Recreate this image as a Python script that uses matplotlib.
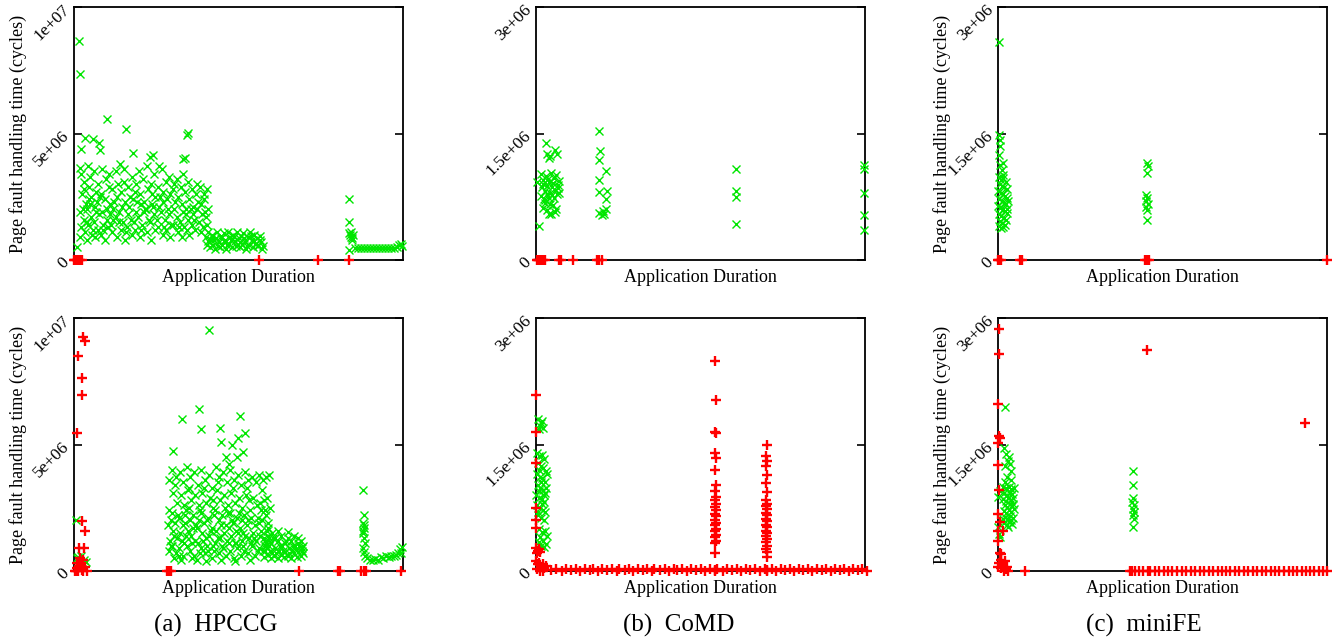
import matplotlib
matplotlib.use('Agg')
import matplotlib.pyplot as plt

plt.rcParams['font.family'] = ['Liberation Serif', 'DejaVu Serif']

# y values are in millions of cycles, x is percent of application duration

# ---- HPCCG, top ----
hpccg_top_green = [
    (1.5, 8.64), (1.8, 7.36), (0.8, 0.50), (10.0, 5.58), (15.7, 5.17), (34.7, 5.01), (34.3, 4.93),
    (3.3, 4.82), (2.1, 4.39), (5.9, 4.78), (7.6, 4.62), (7.9, 4.35), (18.0, 4.22), (23.0, 4.09),
    (24.1, 4.16), (33.0, 3.98), (33.7, 4.05), (1.8, 3.63),
    (2.0, 3.4), (2.4, 2.6), (1.7, 1.9), (2.2, 1.3), (1.9, 0.9),
    (3.1, 3.1), (3.5, 2.2), (2.9, 1.6), (3.3, 1.1), (3.0, 2.8),
    (4.2, 3.7), (4.5, 2.9), (4.0, 2.0), (4.4, 1.4), (4.1, 0.8), (4.6, 2.4),
    (5.0, 3.3), (5.3, 2.5), (5.1, 1.7), (5.5, 1.0),
    (6.1, 3.5), (6.4, 2.1), (6.0, 1.5), (6.3, 0.9), (6.6, 2.7),
    (7.3, 3.0), (7.0, 2.3), (7.5, 1.8), (7.2, 1.2),
    (8.4, 3.6), (8.1, 2.6), (8.6, 1.9), (8.3, 1.0), (8.8, 1.4),
    (9.6, 3.2), (9.3, 2.4), (9.9, 1.6), (9.5, 0.8),
    (10.5, 3.4), (10.8, 2.2), (10.3, 1.3), (10.7, 2.9), (11.0, 1.8),
    (11.7, 2.8), (12.0, 2.0), (11.5, 1.1), (11.9, 1.6),
    (12.9, 3.5), (13.2, 2.5), (12.7, 1.7), (13.1, 0.9), (13.4, 3.0),
    (14.0, 3.8), (14.3, 2.7), (13.8, 1.9), (14.2, 1.2),
    (15.2, 3.1), (15.5, 2.3), (15.0, 1.5), (15.4, 0.8), (15.1, 3.6),
    (16.3, 2.9), (16.6, 2.1), (16.1, 1.3), (16.5, 1.8),
    (17.5, 3.3), (17.8, 2.4), (17.3, 1.6), (17.7, 1.0),
    (18.6, 2.7), (18.9, 1.9), (18.4, 1.2), (18.8, 3.0),
    (19.8, 3.5), (20.1, 2.6), (19.6, 1.7), (20.0, 0.9), (20.3, 2.2),
    (21.0, 3.2), (21.3, 2.3), (20.8, 1.4), (21.2, 1.9),
    (22.1, 3.7), (22.4, 2.8), (21.9, 2.0), (22.3, 1.1),
    (23.3, 3.0), (23.6, 2.2), (23.1, 1.5), (23.5, 0.8), (23.8, 2.6),
    (24.4, 3.4), (24.7, 2.5), (24.2, 1.8), (24.6, 1.2),
    (25.6, 2.9), (25.9, 2.1), (25.4, 1.3), (25.8, 3.7),
    (26.7, 3.6), (27.0, 2.7), (26.5, 1.9), (26.9, 1.0), (27.2, 2.3),
    (27.9, 3.1), (28.2, 2.4), (27.7, 1.6), (28.1, 1.2),
    (29.0, 3.3), (29.3, 2.6), (28.8, 1.8), (29.2, 0.9),
    (30.2, 2.8), (30.5, 2.0), (30.0, 1.4), (30.4, 3.0),
    (31.4, 3.2), (31.7, 2.5), (31.2, 1.7), (31.6, 1.1),
    (32.5, 2.9), (32.8, 2.2), (32.3, 1.5), (32.7, 0.9), (33.0, 3.4),
    (33.7, 2.7), (34.0, 2.0), (33.5, 1.3), (33.9, 1.8),
    (34.8, 3.1), (35.1, 2.4), (34.6, 1.6), (35.0, 1.0),
    (36.0, 2.8), (36.3, 2.1), (35.8, 1.4), (36.2, 1.8),
    (37.1, 2.6), (37.4, 2.0), (36.9, 1.2), (37.3, 3.0),
    (38.3, 2.9), (38.6, 2.2), (38.1, 1.5), (38.5, 1.1),
    (39.4, 2.6), (39.7, 1.9), (39.2, 1.3), (39.6, 2.4),
    (40.5, 2.8), (40.8, 2.0), (40.3, 1.4),
    (40.0, 0.9), (40.3, 0.6), (40.8, 1.1), (41.2, 0.5), (41.5, 0.8),
    (42.0, 1.0), (42.3, 0.6), (42.8, 0.45), (43.1, 0.85), (43.5, 1.1),
    (44.0, 0.7), (44.4, 0.5), (44.8, 0.95), (45.1, 0.6), (45.5, 1.05),
    (46.0, 0.8), (46.3, 0.45), (46.8, 1.1), (47.1, 0.65), (47.5, 0.9),
    (48.0, 0.5), (48.4, 1.0), (48.8, 0.75), (49.1, 0.55), (49.5, 1.1),
    (50.0, 0.85), (50.4, 0.5), (50.8, 0.95), (51.1, 0.65), (51.5, 1.05),
    (52.0, 0.7), (52.3, 0.45), (52.8, 0.9), (53.1, 0.6), (53.5, 1.1),
    (54.0, 0.8), (54.4, 0.5), (54.8, 1.0), (55.1, 0.65), (55.5, 0.85),
    (56.0, 0.55), (56.4, 0.95), (56.8, 0.7), (57.2, 0.45),
    (40.6, 0.75), (41.8, 0.95), (43.8, 0.55), (45.8, 0.7), (47.8, 0.8), (49.8, 0.6),
    (51.8, 0.85), (53.8, 0.95), (55.8, 0.6), (42.5, 0.8), (44.6, 0.85), (46.6, 0.6),
    (48.6, 0.9), (50.6, 0.7), (52.6, 0.55), (54.6, 0.75), (56.5, 0.8), (57.5, 0.55),
    (83.6, 2.40), (83.6, 1.49), (83.9, 1.00), (84.2, 0.92), (83.7, 1.07), (84.5, 0.88),
    (84.1, 1.12), (84.7, 1.00), (83.6, 0.40), (84.4, 0.80),
    (85.5, 0.46), (86.4, 0.46), (87.3, 0.46), (88.2, 0.46), (89.1, 0.46), (90.0, 0.46),
    (90.9, 0.46), (91.8, 0.46), (92.7, 0.46), (93.6, 0.46), (94.5, 0.46), (95.4, 0.46),
    (96.3, 0.46), (97.2, 0.46), (98.1, 0.52), (98.8, 0.60), (99.4, 0.64), (99.8, 0.55),
]
hpccg_top_green_fill = [
    (2.7, 2.0), (3.8, 1.5), (4.9, 2.2), (5.7, 1.2), (6.8, 1.9), (7.9, 2.5), (8.9, 1.2), (9.9, 2.0),
    (11.2, 1.4), (12.3, 2.3), (13.6, 1.5), (14.6, 2.1), (15.8, 1.1), (16.9, 2.5), (18.1, 1.5),
    (19.2, 2.3), (20.5, 1.2), (21.6, 2.0), (22.8, 1.6), (24.0, 2.1), (25.1, 1.6), (26.2, 2.5),
    (27.4, 1.3), (28.5, 2.0), (29.6, 1.4), (30.8, 2.3), (31.9, 1.3), (33.2, 1.9), (34.4, 1.2),
    (35.5, 2.0), (36.6, 1.6), (37.8, 2.3), (38.9, 1.8), (40.0, 1.7),
]
hpccg_top_red = [(0.0, 0), (0.4, 0), (0.8, 0), (1.2, 0), (1.7, 0), (2.3, 0),
                 (56.2, 0), (74.2, 0), (83.6, 0)]

# ---- HPCCG, bottom ----
hpccg_bot_green = [
    (0.6, 2.03), (0.8, 0.50), (1.5, 0.40), (2.2, 0.60), (3.0, 0.45), (3.6, 0.35), (2.6, 0.30), (1.2, 0.55),
    (41.0, 9.51), (38.0, 6.41), (32.7, 6.01), (38.7, 5.61), (50.4, 6.13), (44.5, 5.67), (44.8, 5.11),
    (48.0, 4.98), (49.8, 5.24), (52.0, 5.44), (51.4, 4.72), (46.2, 4.52), (49.6, 4.49), (47.0, 4.23),
    (30.0, 4.76),
    (28.8, 3.6), (29.0, 2.4), (28.7, 1.8), (29.1, 1.2), (28.9, 0.8),
    (29.9, 4.0), (30.2, 3.1), (29.7, 2.3), (30.1, 1.6), (29.8, 1.0), (30.3, 0.5),
    (31.0, 3.7), (31.3, 2.7), (30.8, 1.9), (31.2, 1.3), (30.9, 0.7),
    (32.1, 3.9), (32.4, 3.0), (31.9, 2.1), (32.3, 1.5), (32.0, 0.9), (32.5, 0.45),
    (33.2, 3.5), (33.5, 2.6), (33.0, 1.8), (33.4, 1.1), (33.1, 0.6), (33.6, 2.2),
    (34.3, 4.1), (34.6, 3.2), (34.1, 2.4), (34.5, 1.6), (34.2, 1.0),
    (35.4, 3.7), (35.7, 2.8), (35.2, 2.0), (35.6, 1.4), (35.3, 0.8), (35.8, 0.5),
    (36.5, 3.9), (36.8, 3.0), (36.3, 2.2), (36.7, 1.2), (36.4, 0.6),
    (37.6, 3.4), (37.9, 2.6), (37.4, 1.7), (37.8, 1.1), (37.5, 0.45), (38.0, 2.0),
    (38.7, 4.0), (39.0, 3.1), (38.5, 2.3), (38.9, 1.5), (38.6, 0.9),
    (39.8, 3.6), (40.1, 2.7), (39.6, 1.9), (40.0, 1.3), (39.7, 0.7), (40.2, 0.4),
    (40.9, 3.8), (41.2, 2.9), (40.7, 2.1), (41.1, 1.4), (40.8, 0.8),
    (42.0, 3.3), (42.3, 2.5), (41.8, 1.7), (42.2, 1.0), (41.9, 0.5), (42.4, 2.8),
    (43.1, 4.1), (43.4, 3.2), (42.9, 2.4), (43.3, 1.6), (43.0, 1.1),
    (44.2, 3.7), (44.5, 2.8), (44.0, 2.0), (44.4, 1.3), (44.1, 0.7), (44.6, 0.45),
    (45.3, 3.9), (45.6, 3.0), (45.1, 2.2), (45.5, 1.5), (45.2, 0.9),
    (46.4, 3.5), (46.7, 2.6), (46.2, 1.8), (46.6, 1.2), (46.3, 0.6), (46.8, 2.3),
    (47.5, 4.0), (47.8, 3.1), (47.3, 2.3), (47.7, 1.4), (47.4, 0.8),
    (48.6, 3.6), (48.9, 2.7), (48.4, 1.9), (48.8, 1.1), (48.5, 0.5), (49.0, 0.4),
    (49.7, 3.8), (50.0, 2.9), (49.5, 2.1), (49.9, 1.5), (49.6, 0.9),
    (50.8, 3.4), (51.1, 2.5), (50.6, 1.7), (51.0, 1.2), (50.7, 0.6), (51.2, 2.0),
    (51.9, 3.9), (52.2, 3.0), (51.7, 2.2), (52.1, 1.4), (51.8, 0.8),
    (53.0, 3.6), (53.3, 2.8), (52.8, 2.0), (53.2, 1.3), (52.9, 0.7), (53.4, 0.45),
    (54.1, 3.7), (54.4, 2.9), (53.9, 2.1), (54.3, 1.5), (54.0, 1.0),
    (55.2, 3.5), (55.5, 2.6), (55.0, 1.8), (55.4, 1.2), (55.1, 0.6),
    (56.3, 3.8), (56.6, 2.7), (56.1, 1.9), (56.5, 1.4), (56.2, 0.9), (56.7, 2.4),
    (57.4, 3.6), (57.7, 2.8), (57.2, 2.0), (57.6, 1.3), (57.3, 0.8),
    (58.5, 3.7), (58.8, 2.9), (58.3, 2.2), (58.7, 1.6), (58.4, 1.1),
    (59.3, 3.8), (59.5, 2.5), (59.1, 1.9), (59.4, 1.3),
    (58.0, 1.2), (58.2, 0.8), (57.9, 0.55),
    (59.0, 1.4), (59.2, 1.0), (58.9, 0.65),
    (60.0, 1.1), (60.2, 0.7), (59.9, 0.5), (60.1, 1.5),
    (61.0, 1.3), (61.2, 0.9), (60.9, 0.6),
    (62.0, 1.2), (62.2, 0.8), (61.9, 0.5), (62.1, 1.6),
    (63.0, 1.4), (63.2, 1.0), (62.9, 0.65),
    (64.0, 1.1), (64.2, 0.75), (63.9, 0.55),
    (65.0, 1.3), (65.2, 0.9), (64.9, 0.6), (65.1, 1.55),
    (66.0, 1.2), (66.2, 0.8), (65.9, 0.5),
    (67.0, 1.4), (67.2, 1.0), (66.9, 0.7),
    (68.0, 1.1), (68.2, 0.75), (67.9, 0.55), (68.1, 1.3),
    (69.0, 1.2), (69.2, 0.9), (68.9, 0.6),
    (69.6, 1.0), (69.5, 0.7),
    (87.9, 3.20), (88.1, 2.20), (87.8, 1.90), (88.2, 1.70), (87.7, 1.50), (88.0, 1.30),
    (88.3, 1.10), (87.9, 0.90), (88.2, 0.75), (88.6, 0.60), (88.0, 1.80), (87.8, 1.60),
    (89.2, 0.50), (90.0, 0.45), (90.8, 0.42), (91.6, 0.48), (92.4, 0.45), (93.2, 0.55),
    (94.0, 0.52), (94.8, 0.58), (95.6, 0.55), (96.4, 0.60), (97.2, 0.58), (98.0, 0.62),
    (98.6, 0.70), (99.2, 0.85), (99.7, 0.95), (99.5, 0.70),
]
hpccg_bot_green_fill = [
    (29.4, 2.0), (30.5, 1.4), (31.6, 2.2), (32.7, 1.2), (33.8, 1.9), (34.9, 2.5), (36.0, 1.1),
    (37.1, 1.8), (38.2, 2.4), (39.3, 1.2), (40.4, 2.0), (41.5, 1.6), (42.6, 2.2), (43.7, 1.3),
    (44.8, 1.8), (45.9, 2.5), (47.0, 1.1), (48.1, 2.0), (49.2, 1.6), (50.3, 2.3), (51.4, 1.0),
    (52.5, 1.8), (53.6, 2.4), (54.7, 1.3), (55.8, 2.1), (56.9, 1.6), (58.0, 2.4), (59.0, 1.7),
    (29.6, 1.0), (31.8, 0.6), (33.9, 1.4), (36.1, 1.7), (38.3, 0.7), (40.5, 1.0), (42.7, 0.8),
    (44.9, 1.0), (47.1, 1.7), (49.3, 1.1), (51.5, 1.5), (53.7, 1.1), (55.9, 0.8), (58.1, 1.0),
    (30.6, 3.4), (35.0, 3.3), (39.4, 3.3), (43.8, 3.5), (48.2, 3.3), (52.6, 3.3), (57.0, 3.2),
    (58.5, 1.0), (59.5, 0.8), (60.5, 1.3), (61.5, 0.7), (62.5, 1.0), (63.5, 0.8), (64.5, 1.2),
    (65.5, 0.7), (66.5, 1.0), (67.5, 0.85), (68.5, 1.0), (69.3, 0.8),
]
hpccg_bot_red = [
    (1.3, 8.48), (2.8, 9.25), (3.3, 9.08), (2.5, 7.62), (2.3, 6.96), (1.0, 5.47), (2.3, 1.98),
    (3.3, 1.57), (1.5, 0.92), (3.1, 0.92), (1.8, 0.50), (2.8, 0.45), (0.2, 0.0), (0.8, 0.1),
    (1.5, 0.2), (2.5, 0.05), (3.2, 0.15), (3.8, 0.0), (1.0, 0.3), (2.0, 0.25), (0.5, 0.0),
    (1.2, 0.0), (2.8, 0.0), (28.2, 0), (28.8, 0), (29.5, 0), (68.4, 0), (80.3, 0), (80.7, 0),
    (87.3, 0), (88.0, 0), (88.8, 0), (99.5, 0),
]

# ---- CoMD, top ----
comd_top_green = [
    (0.2, 0.92), (1.0, 0.40), (3.0, 1.39), (3.2, 1.26), (4.3, 1.23), (5.8, 1.31), (6.5, 1.26), (4.1, 1.21),
    (1.5, 1.02), (2.2, 0.95), (3.0, 1.00), (3.8, 0.92), (4.6, 1.03), (5.4, 0.97), (6.2, 1.01), (7.0, 0.94),
    (1.8, 0.86), (2.6, 0.82), (3.4, 0.88), (4.2, 0.80), (5.0, 0.86), (5.8, 0.83), (6.6, 0.89),
    (1.6, 0.76), (2.4, 0.72), (3.2, 0.78), (4.0, 0.74), (4.8, 0.77), (5.6, 0.73), (6.4, 0.78), (7.1, 0.80),
    (2.0, 0.90), (3.6, 0.96), (5.2, 0.91), (6.8, 0.85), (2.8, 0.68), (4.4, 0.66),
    (2.2, 0.62), (3.2, 0.59), (4.7, 0.54), (5.7, 0.57), (2.7, 0.71), (5.2, 0.65), (3.8, 0.55), (6.0, 0.60),
    (19.2, 1.53), (19.5, 1.29), (19.0, 1.19), (19.0, 0.95), (19.0, 0.81), (21.3, 1.05), (21.5, 0.82),
    (21.3, 0.72), (19.2, 0.56), (20.0, 0.53), (20.8, 0.55), (21.2, 0.60), (20.3, 0.58),
    (60.9, 1.08), (60.9, 0.82), (60.9, 0.75), (60.9, 0.43),
    (99.6, 1.13), (99.6, 1.08), (99.6, 0.80), (99.6, 0.53), (99.6, 0.36),
]
comd_top_red = [(0.2, 0), (0.6, 0), (1.0, 0), (1.5, 0), (2.0, 0), (2.7, 0), (7.1, 0), (7.6, 0),
                (11.2, 0), (18.5, 0), (19.3, 0), (20.0, 0)]

# ---- CoMD, bottom ----
comd_bot_green = [
    (0.5, 1.80), (1.2, 1.72), (1.8, 1.78), (0.8, 1.68), (1.5, 1.76), (2.1, 1.70),
    (0.3, 1.40), (1.0, 1.36), (1.8, 1.38), (2.4, 1.33), (0.6, 1.28), (1.4, 1.25), (2.2, 1.22),
    (2.9, 1.18), (0.2, 1.15), (1.1, 1.12), (1.9, 1.10), (2.6, 1.06), (0.5, 1.02), (1.3, 0.99),
    (2.1, 0.96), (2.8, 0.93), (0.1, 0.90), (0.9, 0.87), (1.7, 0.85), (2.5, 0.82), (0.4, 0.78),
    (1.2, 0.75), (2.0, 0.72), (2.7, 0.70), (0.7, 0.66), (1.5, 0.63), (2.3, 0.61), (3.1, 0.98),
    (3.3, 1.15), (0.8, 1.20), (1.6, 1.05), (2.4, 0.90), (1.0, 0.95), (1.9, 0.80), (0.5, 0.70),
    (0.8, 0.50), (1.7, 0.46), (2.6, 0.48), (3.2, 0.42), (1.2, 0.40), (2.2, 0.36), (3.0, 0.32),
    (1.6, 0.30), (2.5, 0.28), (0.9, 0.34),
]
comd_bot_red = [
    (0.0, 2.09), (0.0, 1.65), (0.0, 1.28), (0.0, 0.75), (0.0, 0.60), (0.0, 0.51), (0.0, 0.27),
    (0.6, 0.24), (1.2, 0.22), (0.3, 0.21), (0.9, 0.26),
    (0.0, 0.12), (0.5, 0.08), (1.0, 0.10), (1.5, 0.05), (2.0, 0.08), (2.5, 0.03), (3.0, 0.06),
    (0.3, 0.02), (1.2, 0.0), (2.2, 0.0),
    (4.5, 0.01), (6.0, 0.02), (7.8, 0.0), (9.0, 0.02), (10.6, 0.01), (12.3, 0.02), (13.5, 0.0),
    (15.0, 0.02), (16.4, 0.01), (17.2, 0.02), (18.8, 0.0), (20.1, 0.02), (21.7, 0.01), (23.0, 0.02),
    (24.5, 0.0), (25.3, 0.02), (26.9, 0.01), (28.4, 0.02), (29.6, 0.0), (31.0, 0.02), (32.5, 0.01),
    (33.8, 0.02), (35.2, 0.0), (36.0, 0.02), (37.7, 0.01), (39.1, 0.02), (40.4, 0.0), (42.0, 0.02),
    (42.8, 0.01), (44.5, 0.02), (45.9, 0.0), (47.0, 0.02), (48.6, 0.01), (50.2, 0.02), (51.3, 0.0),
    (52.9, 0.02), (54.5, 0.01), (55.0, 0.02), (56.8, 0.0), (58.2, 0.02), (59.6, 0.01), (61.0, 0.02),
    (62.3, 0.0), (63.9, 0.02), (65.1, 0.01), (66.6, 0.02), (68.0, 0.0), (69.5, 0.02), (70.1, 0.01),
    (71.6, 0.02), (73.0, 0.0), (74.4, 0.02), (75.8, 0.01), (77.1, 0.02), (78.5, 0.0), (79.9, 0.02),
    (81.3, 0.01), (82.6, 0.02), (84.0, 0.0), (85.4, 0.02), (86.9, 0.01), (88.2, 0.02), (89.6, 0.0),
    (91.0, 0.02), (92.3, 0.01), (93.7, 0.02), (95.1, 0.0), (96.4, 0.02), (97.8, 0.01), (99.0, 0.02),
    (100.5, 0.0),
    (54.3, 2.49), (54.7, 2.03), (54.3, 1.65), (54.7, 1.64), (54.3, 1.40), (54.7, 1.34), (54.3, 1.20),
    (54.7, 1.02), (54.3, 0.95), (54.7, 0.88), (54.3, 0.84), (54.7, 0.80), (54.3, 0.76), (54.7, 0.72),
    (54.3, 0.68), (54.7, 0.65), (54.3, 0.61), (54.7, 0.57), (54.3, 0.54), (54.7, 0.50), (54.3, 0.47),
    (54.7, 0.43), (54.3, 0.40), (54.7, 0.36), (54.3, 0.33), (54.5, 0.21), (54.5, 0.0),
    (70.1, 1.49), (69.9, 1.36), (70.3, 1.31), (69.9, 1.24), (70.3, 1.14), (69.9, 1.04), (70.3, 0.94),
    (69.9, 0.84), (70.3, 0.80), (69.9, 0.77), (70.3, 0.73), (69.9, 0.69), (70.3, 0.66), (69.9, 0.62),
    (70.3, 0.59), (69.9, 0.55), (70.3, 0.52), (69.9, 0.48), (70.3, 0.45), (69.9, 0.41), (70.3, 0.38),
    (69.9, 0.34), (70.3, 0.30), (69.9, 0.26), (70.3, 0.22), (70.1, 0.17), (70.1, 0.0),
]

# ---- miniFE, top ----
minife_top_green = [
    (0.2, 2.58), (0.5, 1.42), (0.5, 1.35), (0.2, 1.25), (0.7, 1.13), (1.5, 1.15), (1.2, 1.07),
    (1.5, 1.01), (0.3, 1.48),
    (0.2, 0.98), (0.9, 0.95), (1.6, 0.97), (2.3, 0.92), (0.5, 0.90), (1.2, 0.88), (1.9, 0.86),
    (2.6, 0.84), (0.1, 0.82), (0.8, 0.80), (1.5, 0.78), (2.2, 0.76), (2.8, 0.74), (0.4, 0.72),
    (1.1, 0.70), (1.8, 0.68), (2.5, 0.66), (0.0, 0.64), (0.7, 0.62), (1.4, 0.60), (2.1, 0.58),
    (2.7, 0.56), (0.3, 0.54), (1.0, 0.52), (1.7, 0.50), (2.4, 0.48), (0.6, 0.46), (1.3, 0.44),
    (2.0, 0.42), (0.2, 0.40), (0.9, 0.38), (1.6, 0.39), (2.6, 0.60), (2.9, 0.70),
    (45.2, 1.15), (45.5, 1.11), (45.2, 1.03), (45.0, 0.77), (45.4, 0.74), (45.1, 0.70),
    (45.5, 0.66), (45.0, 0.63), (45.3, 0.59), (45.2, 0.47),
]
minife_top_red = [(0.0, 0), (0.4, 0), (0.8, 0), (6.6, 0), (7.3, 0), (44.6, 0), (45.2, 0),
                  (45.9, 0), (99.9, 0)]

# ---- miniFE, bottom ----
minife_bot_green = [
    (2.0, 1.95), (1.7, 1.46), (2.5, 1.39), (3.2, 1.35), (3.5, 1.27), (2.0, 1.24), (2.7, 1.12),
    (4.0, 1.08), (0.7, 0.95), (0.0, 0.88), (0.3, 0.44), (0.5, 0.40), (0.0, 0.52), (3.0, 1.30),
    (3.8, 1.18), (2.2, 1.05),
    (1.6, 1.00), (2.4, 0.98), (3.2, 1.00), (4.0, 0.97), (4.8, 0.99), (1.9, 0.92), (2.7, 0.90),
    (3.5, 0.93), (4.3, 0.91), (1.5, 0.85), (2.3, 0.83), (3.1, 0.86), (3.9, 0.84), (4.7, 0.87),
    (2.0, 0.78), (2.8, 0.76), (3.6, 0.79), (4.4, 0.77), (1.7, 0.71), (2.5, 0.69), (3.3, 0.72),
    (4.1, 0.70), (4.9, 0.73), (2.1, 0.64), (2.9, 0.62), (3.7, 0.65), (4.5, 0.63), (1.8, 0.57),
    (2.6, 0.55), (3.4, 0.58), (4.2, 0.56), (3.0, 0.52), (1.6, 0.62), (4.6, 0.80), (3.8, 0.60),
    (41.1, 1.18), (41.1, 1.02), (41.1, 0.86), (40.8, 0.82), (41.3, 0.78), (41.0, 0.74),
    (41.4, 0.70), (40.9, 0.66), (41.2, 0.62), (41.1, 0.52),
]
minife_bot_red = [
    (0.3, 2.87), (0.2, 2.57), (0.0, 1.98), (0.2, 1.60), (0.7, 1.58), (0.0, 1.26), (0.3, 0.96),
    (0.0, 0.68), (0.5, 0.58), (0.0, 0.48), (1.5, 0.48), (0.0, 0.36), (0.5, 0.21), (1.0, 0.13),
    (0.3, 0.10), (1.6, 0.08), (2.2, 0.12), (2.8, 0.05), (0.8, 0.03), (1.9, 0.0), (2.5, 0.02),
    (3.0, 0.0), (0.0, 0.05), (8.1, 0.0), (45.4, 2.62), (93.2, 1.76), (0.0, 1.52), (1.0, 0.20),
    (40.0, 0), (40.8, 0), (41.7, 0), (43.0, 0), (44.2, 0), (45.5, 0), (46.3, 0), (47.8, 0),
    (49.0, 0), (50.5, 0), (51.6, 0), (53.0, 0), (54.4, 0), (55.9, 0), (57.1, 0), (58.6, 0),
    (60.0, 0), (61.3, 0), (62.5, 0), (64.1, 0), (65.2, 0), (66.8, 0), (68.0, 0), (69.4, 0),
    (70.6, 0), (72.1, 0), (73.3, 0), (74.8, 0), (76.0, 0), (77.5, 0), (78.7, 0), (80.2, 0),
    (81.4, 0), (82.9, 0), (84.1, 0), (85.5, 0), (86.9, 0), (88.3, 0), (89.7, 0), (91.0, 0),
    (92.4, 0), (93.6, 0), (94.9, 0), (96.2, 0), (97.6, 0), (98.8, 0), (100.0, 0),
]

hpccg_ticks = ['0', '5e+06', '1e+07']
small_ticks = ['0', '1.5e+06', '3e+06']
captions = ['(a)  HPCCG', '(b)  CoMD', '(c)  miniFE']

GREEN = '#00e600'
RED = '#ff0000'
FS = 13


def unzip(pts):
    return [p[0] for p in pts], [p[1] for p in pts]


def draw(ax, green, red, ymax, ticklabels, ylabel):
    gx, gy = unzip(green)
    rx, ry = unzip(red)
    ax.plot(gx, gy, ls='none', marker='x', color=GREEN, ms=6, mew=1.0, clip_on=False, zorder=3)
    ax.plot(rx, ry, ls='none', marker='+', color=RED, ms=7, mew=1.7, clip_on=False, zorder=4)
    ax.set_xlim(0, 100)
    ax.set_ylim(0, ymax)
    ax.set_xticks([])
    ax.set_yticks([0, ymax / 2, ymax])
    ax.set_yticklabels(ticklabels, rotation=45, ha='right', va='center', rotation_mode='anchor')
    ax.tick_params(axis='y', direction='in', length=6, width=1.2, right=True, labelsize=12.5, pad=5)
    for s in ax.spines.values():
        s.set_linewidth(1.3)
    ax.text(0.5, -0.068, 'Application Duration', transform=ax.transAxes,
            ha='center', va='center', fontsize=FS)
    if ylabel:
        ax.text(-0.17, 0.5, 'Page fault handling time (cycles)', transform=ax.transAxes,
                rotation=90, ha='center', va='center', fontsize=FS)


fig = plt.figure(figsize=(13.38, 6.41), dpi=100)
W, H = 1338.0, 641.0
lefts = [74, 536, 998]
width = 329
tops = [7, 318]
height = 253

panels = [
    [(hpccg_top_green + hpccg_top_green_fill, hpccg_top_red),
     (hpccg_bot_green + hpccg_bot_green_fill, hpccg_bot_red)],
    [(comd_top_green, comd_top_red), (comd_bot_green, comd_bot_red)],
    [(minife_top_green, minife_top_red), (minife_bot_green, minife_bot_red)],
]

for col in range(3):
    for row in range(2):
        ax = fig.add_axes([lefts[col] / W, 1 - (tops[row] + height) / H, width / W, height / H])
        green, red = panels[col][row]
        if col == 0:
            draw(ax, green, red, 10, hpccg_ticks, True)
        else:
            draw(ax, green, red, 3, small_ticks, col == 2)

cap_x = [216, 679, 1144]
for cx, cap in zip(cap_x, captions):
    fig.text(cx / W, 1 - 625 / H, cap, ha='center', va='center', fontsize=18)

fig.savefig('out.png', dpi=100)
